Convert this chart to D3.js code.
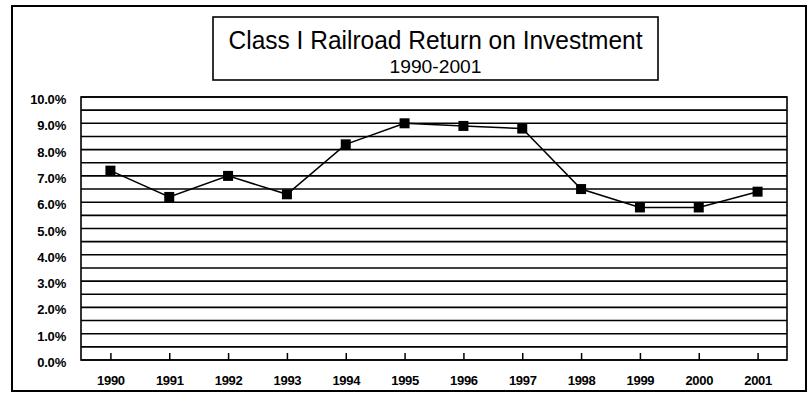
<!DOCTYPE html>
<html>
<head>
<meta charset="utf-8">
<script src="https://cdn.jsdelivr.net/npm/d3@7"></script>
<style>
html,body{margin:0;padding:0;background:#fff;}
svg{display:block;}
</style>
</head>
<body>
<script>
const years = ["1990","1991","1992","1993","1994","1995","1996","1997","1998","1999","2000","2001"];
const returnPct = [7.2, 6.2, 7.0, 6.3, 8.2, 9.0, 8.9, 8.8, 6.5, 5.8, 5.8, 6.4];
const yTicks = [0,1,2,3,4,5,6,7,8,9,10];
const gridValues = d3.range(0, 10.01, 0.5);
const titleText = "Class I Railroad Return on Investment";
const subtitleText = "1990-2001";

const W = 811, H = 400;
const svg = d3.select("body").append("svg").attr("width", W).attr("height", H);

// outer frame
svg.append("rect").attr("x",12).attr("y",6).attr("width",794).attr("height",385)
  .attr("fill","#fff").attr("stroke","#000").attr("stroke-width",2);

// plot area
const L = 81, R = 787, T = 97, B = 360;
const x = d3.scalePoint().domain(years).range([L, R]).padding(0.5);
const y = d3.scaleLinear().domain([0, 10]).range([B, T]);

// gridlines
svg.append("g").selectAll("line").data(gridValues).join("line")
  .attr("x1", L).attr("x2", R)
  .attr("y1", d => y(d)).attr("y2", d => y(d))
  .attr("stroke", "#000").attr("stroke-width", 1.6);

svg.append("rect").attr("x",L).attr("y",T).attr("width",R-L).attr("height",B-T)
  .attr("fill","none").attr("stroke","#000").attr("stroke-width",1.6);

// y axis labels
const yAxis = d3.axisLeft(y).tickValues(yTicks).tickSize(0).tickPadding(15)
  .tickFormat(d => d.toFixed(1) + "%");
const gy = svg.append("g").attr("transform", `translate(${L},0)`).call(yAxis);
gy.select(".domain").remove();
gy.selectAll("text").attr("font-family","'Liberation Sans', Arial, sans-serif")
  .attr("font-weight","bold").attr("font-size",13).attr("fill","#000")
  .attr("dy","0.5em").attr("letter-spacing","-0.2");

// x axis: ticks pointing up inside, labels below
const xAxis = d3.axisBottom(x).tickSizeInner(-7).tickSizeOuter(0).tickPadding(16);
const gx = svg.append("g").attr("transform", `translate(0,${B})`).call(xAxis);
gx.select(".domain").remove();
gx.selectAll(".tick line").attr("stroke","#000").attr("stroke-width",1.5);
gx.selectAll("text").attr("font-family","'Liberation Sans', Arial, sans-serif")
  .attr("font-weight","bold").attr("font-size",13).attr("fill","#000")
  .attr("letter-spacing","-0.3");

// line
const line = d3.line().x((d,i) => x(years[i])).y(d => y(d));
svg.append("path").datum(returnPct).attr("d", line)
  .attr("fill","none").attr("stroke","#000").attr("stroke-width",1.5);

// markers
const ms = 10;
svg.append("g").selectAll("rect").data(returnPct).join("rect")
  .attr("x", (d,i) => x(years[i]) - ms/2)
  .attr("y", d => y(d) - ms/2)
  .attr("width", ms).attr("height", ms).attr("fill","#000");

// title box
svg.append("rect").attr("x",213).attr("y",17).attr("width",445).attr("height",63)
  .attr("fill","#fff").attr("stroke","#000").attr("stroke-width",1.6);
svg.append("text").attr("x",435.5).attr("y",49).attr("text-anchor","middle")
  .attr("font-family","'Liberation Sans Narrow', 'Arial Narrow', Arial, sans-serif")
  .attr("font-size",26).attr("fill","#000")
  .attr("textLength",414).attr("lengthAdjust","spacingAndGlyphs").text(titleText);
svg.append("text").attr("x",435.5).attr("y",73).attr("text-anchor","middle")
  .attr("font-family","'Liberation Sans Narrow', 'Arial Narrow', Arial, sans-serif")
  .attr("font-size",19).attr("fill","#000")
  .attr("textLength",92).attr("lengthAdjust","spacingAndGlyphs").text(subtitleText);
</script>
</body>
</html>
